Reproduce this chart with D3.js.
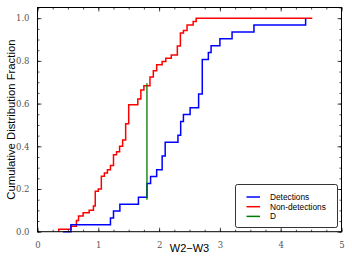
<!DOCTYPE html>
<html><head><meta charset="utf-8">
<script src="https://cdn.jsdelivr.net/npm/d3@7"></script>
<style>body{margin:0;background:#fff}svg{display:block}</style>
</head><body>
<svg id="c" width="352" height="264"></svg>
<script>
// Detections (blue) step CDF: x positions and levels after each step
const detX = [0.42, 0.55, 1.20, 1.25, 1.355, 1.66, 1.80, 1.86, 1.96, 2.05, 2.10, 2.31, 2.355, 2.40, 2.51, 2.65, 2.71, 2.81, 2.855, 3.0, 3.2, 3.56, 4.41];
const detY = [0, 1/31, 2/31, 3/31, 4/31, 5/31, 7/31, 8/31, 9/31, 11/31, 13/31, 14/31, 16/31, 17/31, 18/31, 20/31, 25/31, 26/31, 27/31, 28/31, 29/31, 30/31, 1];
// Non-detections (red)
const nonX = [0.35, 0.55, 0.64, 0.675, 0.75, 0.85, 0.92, 0.95, 1.00, 1.05, 1.10, 1.15, 1.20, 1.25, 1.30, 1.35, 1.40, 1.45, 1.50, 1.65, 1.70, 1.75, 1.85, 1.905, 1.96, 2.05, 2.11, 2.20, 2.30, 2.35, 2.40, 2.46, 2.56, 2.61, 4.52];
const nonY = [0.012, 0.025, 0.052, 0.074, 0.089, 0.10, 0.12, 0.19, 0.20, 0.26, 0.275, 0.29, 0.31, 0.36, 0.375, 0.40, 0.43, 0.505, 0.594, 0.622, 0.664, 0.683, 0.725, 0.754, 0.782, 0.797, 0.812, 0.828, 0.870, 0.930, 0.942, 0.968, 0.984, 1.0, 1.0];
// KS statistic D line
const dX = [1.80, 1.80];
const dY = [0.15, 0.695];
const xTicks = [0, 1, 2, 3, 4, 5];
const yTicks = [0.0, 0.2, 0.4, 0.6, 0.8, 1.0];
const legendLabels = ["Detections", "Non-detections", "D"];
const colors = ["#0000ff", "#ff0000", "#007a00"];

const svg = d3.select("#c");
const L = 37.5, R = 341.5, T = 7.5, B = 231.7;
const x = d3.scaleLinear().domain([0, 5]).range([L, R]);
const y = d3.scaleLinear().domain([0, 1.05]).range([B, T]);

function stepPath(xs, ys, startZero) {
  const pts = [];
  if (startZero) pts.push([xs[0], 0]);
  xs.forEach((v, i) => pts.push([v, ys[i]]));
  return d3.line().x(d => x(d[0])).y(d => y(d[1])).curve(d3.curveStepAfter)(pts);
}
const g = svg.append("g");
g.append("path").attr("d", stepPath(nonX, nonY, true)).attr("fill", "none").attr("stroke", colors[1]).attr("stroke-width", 1.5);
g.append("path").attr("d", stepPath(detX, detY, false)).attr("fill", "none").attr("stroke", colors[0]).attr("stroke-width", 1.5);
g.append("path").attr("d", d3.line().x(d => x(d[0])).y(d => y(d[1]))(dX.map((v, i) => [v, dY[i]])))
  .attr("fill", "none").attr("stroke", colors[2]).attr("stroke-width", 1.3);

svg.append("rect").attr("x", L).attr("y", T).attr("width", R - L).attr("height", B - T)
  .attr("fill", "none").attr("stroke", "#000").attr("stroke-width", 1);

const xMinor = d3.range(0, 5.001, 0.25);
const yMinor = d3.range(0, 1.0501, 0.05);
function inward(axisFn, scale, vals, size, tx, ty, labels) {
  const a = axisFn(scale).tickValues(vals).tickSize(size).tickPadding(4);
  if (labels) a.tickFormat(labels); else a.tickFormat("");
  const gg = svg.append("g").attr("transform", `translate(${tx},${ty})`).call(a);
  gg.select(".domain").remove();
  gg.selectAll("line").attr("stroke", "#000").attr("stroke-width", 0.7);
  return gg;
}
const bx = inward(d3.axisBottom, x, xTicks, -4, 0, B, d => d3.format("d")(d));
bx.selectAll("text").attr("transform", "translate(0,6)");
inward(d3.axisBottom, x, xMinor, -2, 0, B, null);
inward(d3.axisTop, x, xTicks, -4, 0, T, null);
inward(d3.axisTop, x, xMinor, -2, 0, T, null);
const ly = inward(d3.axisLeft, y, yTicks, -4, L, 0, d => d3.format(".1f")(d));
ly.selectAll("text").attr("transform", "translate(-4,0)");
inward(d3.axisLeft, y, yMinor, -2, L, 0, null);
inward(d3.axisRight, y, yTicks, -4, R, 0, null);
inward(d3.axisRight, y, yMinor, -2, R, 0, null);
svg.selectAll("g text").attr("font-family", "'DejaVu Serif', 'Liberation Serif', serif")
  .attr("font-size", 8.5).attr("fill", "#555");

svg.append("text").attr("x", (L + R) / 2).attr("y", 252).attr("text-anchor", "middle")
  .attr("font-family", "'Liberation Sans', Arial, sans-serif").attr("font-size", 11).text("W2\u2212W3");
svg.append("text").attr("transform", `translate(15,${(T + B) / 2}) rotate(-90)`).attr("text-anchor", "middle")
  .attr("font-family", "'Liberation Sans', Arial, sans-serif").attr("font-size", 11.3).text("Cumulative Distribution Fraction");

const lg = svg.append("g");
lg.append("rect").attr("x", 235.5).attr("y", 184.5).attr("width", 102).attr("height", 43).attr("rx", 2)
  .attr("fill", "#fff").attr("stroke", "#000").attr("stroke-width", 0.8);
legendLabels.forEach((t, i) => {
  const yy = 197 + i * 9.7;
  lg.append("line").attr("x1", 246.5).attr("x2", 260).attr("y1", yy).attr("y2", yy)
    .attr("stroke", colors[i]).attr("stroke-width", 1.5);
  lg.append("text").attr("x", 270).attr("y", yy + 3).attr("font-family", "'Liberation Sans', Arial, sans-serif")
    .attr("font-size", 8.3).text(t);
});
</script>
</body></html>
